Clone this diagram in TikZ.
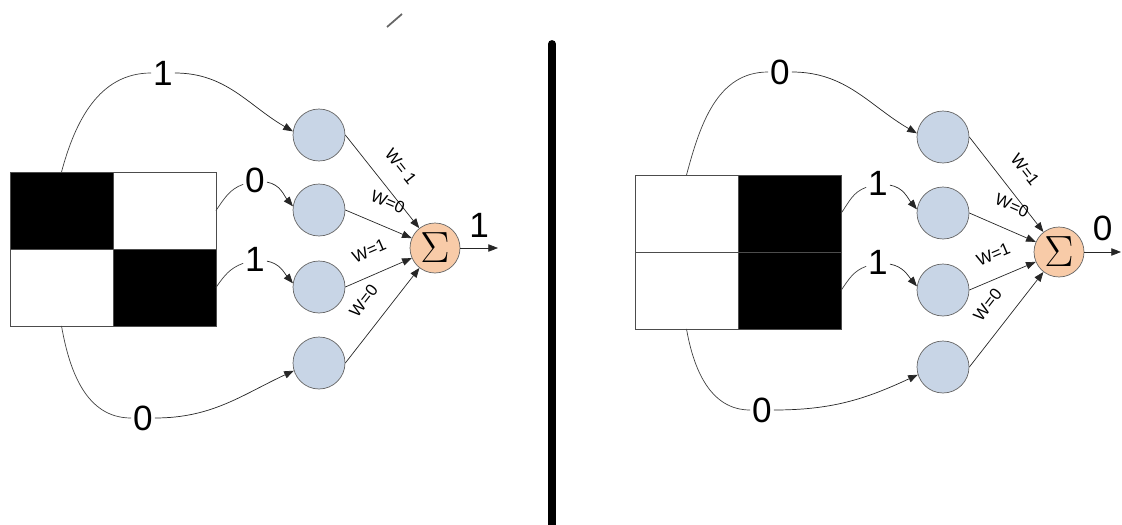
\documentclass[tikz,border=0pt]{standalone}
\usepackage{fontspec}
\setmainfont{Liberation Sans}
\usetikzlibrary{positioning, arrows.meta}
\definecolor{neurfill}{RGB}{200,213,230}
\definecolor{sumfill}{RGB}{248,203,168}

\begin{document}
\begin{tikzpicture}[
  x=0.02cm, y=-0.02cm,
  >={Triangle[length=5.5pt, width=4.2pt]},
  cell/.style={draw=black!70, minimum width=2.06cm, minimum height=1.54cm,
               inner sep=0pt, outer sep=0pt},
  wcell/.style={cell, fill=white},
  bcell/.style={cell, fill=black},
  neur/.style={circle, draw=black!60, fill=neurfill, minimum size=1.04cm, inner sep=0pt},
  sumn/.style={circle, draw=black!60, fill=sumfill, minimum size=1.0cm, inner sep=0pt,
               font=\fontsize{31}{33}\selectfont},
  bit/.style={font=\fontsize{20}{22}\selectfont, inner sep=1pt},
  wlab/.style={font=\fontsize{9.5}{11}\selectfont, inner sep=0.5pt, midway, sloped, above=9.5pt},
  link/.style={thin, draw=black!75},
  arr/.style={->, thin, draw=black!85},
]
\useasboundingbox (0,0) rectangle (1122,524);
% ---- left panel ----
\node[bcell] (ltl) at (61.5,210.5) {};
\node[wcell, right=0pt of ltl] (ltr) {};
\node[wcell, below=0pt of ltl] (lbl) {};
\node[bcell, right=0pt of lbl] (lbr) {};
\node[neur] (ln1) at (319,135) {};
\node[neur] (ln2) at (319,210) {};
\node[neur] (ln3) at (319,287) {};
\node[neur] (ln4) at (319,363) {};
\node[sumn] (ls) at (435,248) {$\Sigma$};
\coordinate (lout) at (498,248);
\node[bit] (lb1) at (163,73) {1};
\node[bit] (lb2) at (255,180) {0};
\node[bit] (lb3) at (255,259) {1};
\node[bit] (lb4) at (143,418) {0};
\draw[link] (ltl.north) to[out=75,in=180] (lb1);
\draw[arr] (lb1) to[out=0,in=150] (ln1.172);
\draw[link] (ltr.east) to[out=55,in=200] (lb2);
\draw[arr] (lb2) to[out=-10,in=130] (ln2.172);
\draw[link] (lbr.east) to[out=55,in=200] (lb3);
\draw[arr] (lb3) to[out=-10,in=130] (ln3.172);
\draw[link] (lbl.south) to[out=-80,in=180] (lb4);
\draw[arr] (lb4) to[out=0,in=205] (ln4.197);
\draw[arr] (ln1.east) -- (ls) node[wlab] {W= 1};
\draw[arr] (ln2.east) -- (ls) node[wlab] {W=0};
\draw[arr] (ln3.east) -- (ls) node[wlab] {W=1};
\draw[arr] (ln4.east) -- (ls) node[wlab] {W=0};
\draw[arr] (ls) -- (lout) node[bit, midway, above=5pt] (lres) {1};
% ---- divider ----
\draw[line width=4.5pt, line cap=round] (552,44) -- (552,540);
\draw[black!60, line width=1pt] (387,27) -- (402,14);
% ---- right panel ----
\node[wcell] (rtl) at (686.5,213.5) {};
\node[bcell, right=0pt of rtl] (rtr) {};
\node[wcell, below=0pt of rtl] (rbl) {};
\node[bcell, right=0pt of rbl] (rbr) {};
\node[neur] (rn1) at (943,137) {};
\node[neur] (rn2) at (943,213) {};
\node[neur] (rn3) at (943,290) {};
\node[neur] (rn4) at (943,367) {};
\node[sumn] (rs) at (1059,252) {$\Sigma$};
\coordinate (rout) at (1121,252);
\node[bit] (rb1) at (780,72) {0};
\node[bit] (rb2) at (878,183) {1};
\node[bit] (rb3) at (878,262) {1};
\node[bit] (rb4) at (762,410) {0};
\draw[link] (rtl.north) to[out=75,in=180] (rb1);
\draw[arr] (rb1) to[out=0,in=150] (rn1.172);
\draw[link] (rtr.east) to[out=55,in=200] (rb2);
\draw[arr] (rb2) to[out=-10,in=130] (rn2.172);
\draw[link] (rbr.east) to[out=55,in=200] (rb3);
\draw[arr] (rb3) to[out=-10,in=130] (rn3.172);
\draw[link] (rbl.south) to[out=-80,in=180] (rb4);
\draw[arr] (rb4) to[out=0,in=205] (rn4.197);
\draw[arr] (rn1.east) -- (rs) node[wlab] {W=1};
\draw[arr] (rn2.east) -- (rs) node[wlab] {W=0};
\draw[arr] (rn3.east) -- (rs) node[wlab] {W=1};
\draw[arr] (rn4.east) -- (rs) node[wlab] {W=0};
\draw[arr] (rs) -- (rout) node[bit, midway, above=5pt] (rres) {0};
\end{tikzpicture}
\end{document}
